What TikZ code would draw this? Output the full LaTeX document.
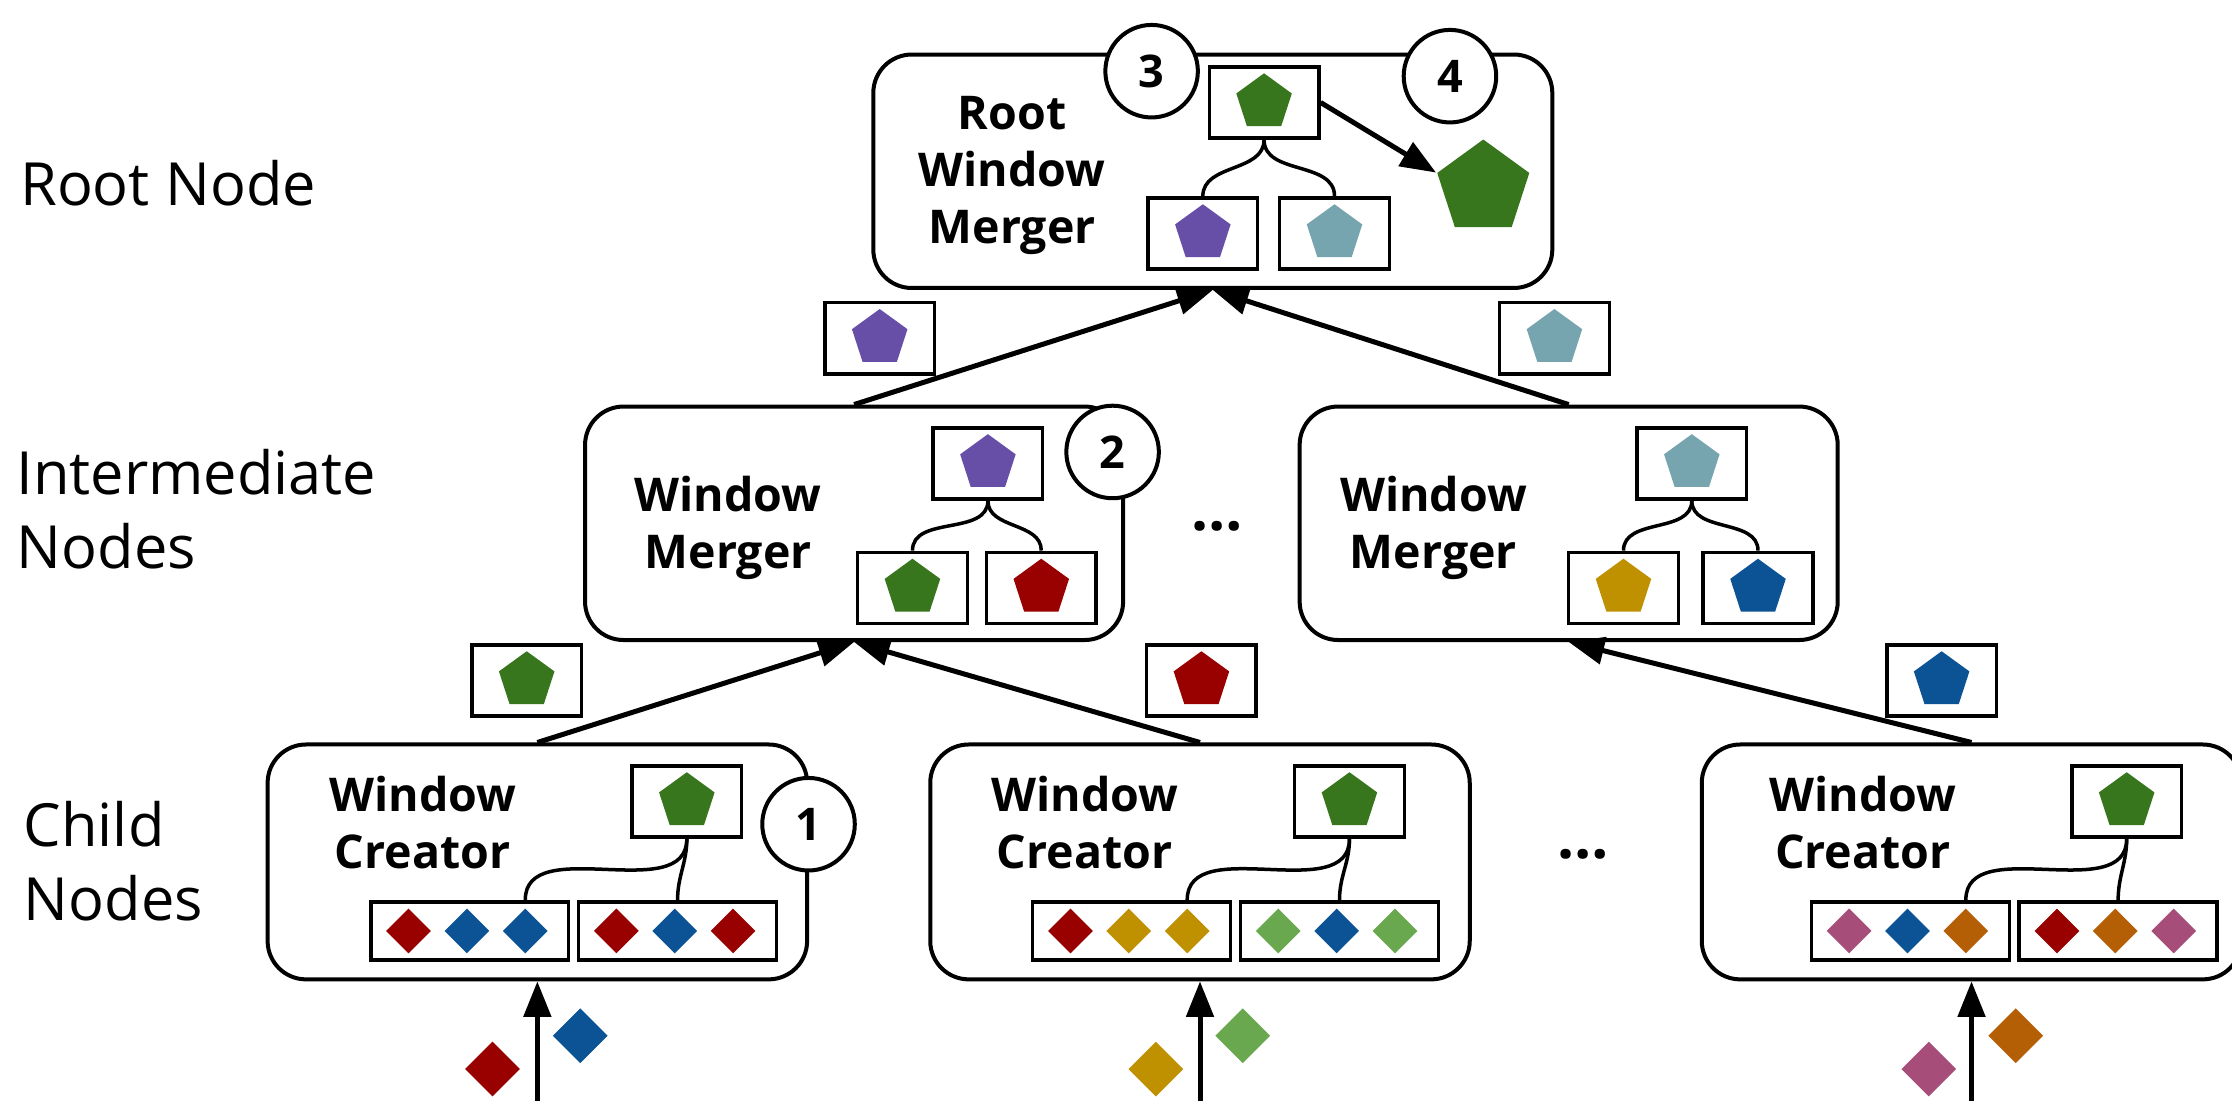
\documentclass[tikz,border=0pt]{standalone}
\usepackage{fontspec}
\setmainfont{Open Sans}
\usetikzlibrary{shapes.geometric, arrows.meta, positioning, calc}
\definecolor{pgreen}{HTML}{38761D}
\definecolor{ppurple}{HTML}{674EA7}
\definecolor{pteal}{HTML}{76A5AF}
\definecolor{pred}{HTML}{990000}
\definecolor{pblue}{HTML}{0B5394}
\definecolor{pgold}{HTML}{BF9000}
\definecolor{plime}{HTML}{6AA84F}
\definecolor{porange}{HTML}{B45F06}
\definecolor{ppink}{HTML}{A64D79}
\tikzset{
    tier/.style={rectangle, rounded corners=0.27cm, draw=black, line width=0.8pt, fill=white, inner sep=0pt},
    winbox/.style={rectangle, draw=black, line width=0.7pt, fill=white, minimum width=0.77cm, minimum height=0.5cm, inner sep=0pt},
    evbox/.style={rectangle, draw=black, line width=0.7pt, minimum width=1.39cm, minimum height=0.41cm, inner sep=0pt},
    pent/.style={regular polygon, regular polygon sides=5, minimum size=0.41cm, inner sep=0pt, fill=#1},
    gem/.style={diamond, aspect=1, minimum width=0.32cm, minimum height=0.32cm, inner sep=0pt, fill=#1},
    bigem/.style={gem=#1, minimum width=0.39cm, minimum height=0.39cm},
    badge/.style={circle, draw=black, line width=0.8pt, fill=white, minimum size=0.65cm, inner sep=0pt, font=\bfseries\fontsize{9}{10}\selectfont},
    role/.style={align=center, inner sep=0pt, font=\bfseries\fontsize{9.3}{11.4}\selectfont},
    tierlabel/.style={align=left, anchor=west, inner sep=0pt, font=\fontsize{11.9}{14.8}\selectfont},
    arrow/.style={-{Triangle[length=0.25cm, width=0.19cm]}, line width=1pt},
    link/.style={line width=0.7pt},
}

\begin{document}
\begin{tikzpicture}
    \useasboundingbox (0,0) rectangle (15.68,-7.73);

    % Level labels
    \node[tierlabel] (lroot) at (0.135,-1.29) {Root Node};
    \node[tierlabel] (linter) at (0.11,-3.58) {Intermediate\\Nodes};
    \node[tierlabel] (lchild) at (0.16,-6.05) {Child\\Nodes};

    % Root node
    \node[tier, minimum width=4.77cm, minimum height=1.64cm] (root) at (8.52,-1.203) {};
    \node[role] (roottext) at (7.11,-1.235) {Root\\Window\\Merger};
    \node[winbox] (rtop) at (8.88,-0.72) {};
    \node[pent=pgreen] (rtopp) at (rtop) {};
    \node[winbox] (rleft) at (8.45,-1.64) {};
    \node[pent=ppurple] (rleftp) at (rleft) {};
    \node[winbox] (rright) at (9.375,-1.64) {};
    \node[pent=pteal] (rrightp) at (rright) {};
    \node[pent=pgreen, minimum size=0.68cm] (result) at (10.42,-1.32) {};
    \draw[link] (rtop.south) to[out=-90, in=90] (rleft.north);
    \draw[link] (rtop.south) to[out=-90, in=90] (rright.north);
    \draw[arrow] (rtop.east) -- (result.corner 2);

    % Intermediate nodes
    \node[tier, minimum width=3.78cm, minimum height=1.64cm] (mergeL) at (6.0,-3.676) {};
    \node[role] (mergeLtext) at (5.115,-3.71) {Window\\Merger};
    \node[winbox] (mLtop) at (6.94,-3.255) {};
    \node[pent=ppurple] (mLtopp) at (mLtop) {};
    \node[winbox] (mLleft) at (6.41,-4.13) {};
    \node[pent=pgreen] (mLleftp) at (mLleft) {};
    \node[winbox] (mLright) at (7.315,-4.13) {};
    \node[pent=pred] (mLrightp) at (mLright) {};
    \draw[link] (mLtop.south) to[out=-90, in=90] (mLleft.north);
    \draw[link] (mLtop.south) to[out=-90, in=90] (mLright.north);

    \node[tier, minimum width=3.78cm, minimum height=1.64cm] (mergeR) at (11.02,-3.676) {};
    \node[role] (mergeRtext) at (10.07,-3.71) {Window\\Merger};
    \node[winbox] (mRtop) at (11.885,-3.255) {};
    \node[pent=pteal] (mRtopp) at (mRtop) {};
    \node[winbox] (mRleft) at (11.405,-4.13) {};
    \node[pent=pgold] (mRleftp) at (mRleft) {};
    \node[winbox] (mRright) at (12.35,-4.13) {};
    \node[pent=pblue] (mRrightp) at (mRright) {};
    \draw[link] (mRtop.south) to[out=-90, in=90] (mRleft.north);
    \draw[link] (mRtop.south) to[out=-90, in=90] (mRright.north);

    \node (dotsmid) at (8.55,-3.70) {\fontsize{12}{14}\selectfont\bfseries\dots};

    % Child nodes
    \node[tier, minimum width=3.79cm, minimum height=1.65cm] (child1) at (3.775,-6.055) {};
    \node[role] (child1text) at (2.97,-5.78) {Window\\Creator};
    \node[winbox] (c1top) at (4.825,-5.63) {};
    \node[pent=pgreen] (c1topp) at (c1top) {};
    \node[evbox] (c1a) at (3.30,-6.54) {};
    \node[gem=pred] (c1a1) at ([xshift=-0.43cm]c1a.center) {};
    \node[gem=pblue] (c1a2) at ([xshift=-0.02cm]c1a.center) {};
    \node[gem=pblue] (c1a3) at ([xshift=0.39cm]c1a.center) {};
    \node[evbox] (c1b) at (4.76,-6.54) {};
    \node[gem=pred] (c1b1) at ([xshift=-0.43cm]c1b.center) {};
    \node[gem=pblue] (c1b2) at ([xshift=-0.02cm]c1b.center) {};
    \node[gem=pred] (c1b3) at ([xshift=0.39cm]c1b.center) {};
    \draw[link] (c1top.south) to[out=-90, in=90] (c1a3 |- c1a.north);
    \draw[link] (c1top.south) to[out=-90, in=90] (c1b.north);

    \node[tier, minimum width=3.79cm, minimum height=1.65cm] (child2) at (8.43,-6.055) {};
    \node[role] (child2text) at (7.62,-5.78) {Window\\Creator};
    \node[winbox] (c2top) at (9.48,-5.63) {};
    \node[pent=pgreen] (c2topp) at (c2top) {};
    \node[evbox] (c2a) at (7.95,-6.54) {};
    \node[gem=pred] (c2a1) at ([xshift=-0.43cm]c2a.center) {};
    \node[gem=pgold] (c2a2) at ([xshift=-0.02cm]c2a.center) {};
    \node[gem=pgold] (c2a3) at ([xshift=0.39cm]c2a.center) {};
    \node[evbox] (c2b) at (9.41,-6.54) {};
    \node[gem=plime] (c2b1) at ([xshift=-0.43cm]c2b.center) {};
    \node[gem=pblue] (c2b2) at ([xshift=-0.02cm]c2b.center) {};
    \node[gem=plime] (c2b3) at ([xshift=0.39cm]c2b.center) {};
    \draw[link] (c2top.south) to[out=-90, in=90] (c2a3 |- c2a.north);
    \draw[link] (c2top.south) to[out=-90, in=90] (c2b.north);

    \node[tier, minimum width=3.79cm, minimum height=1.65cm] (child3) at (13.85,-6.055) {};
    \node[role] (child3text) at (13.087,-5.78) {Window\\Creator};
    \node[winbox] (c3top) at (14.94,-5.63) {};
    \node[pent=pgreen] (c3topp) at (c3top) {};
    \node[evbox] (c3a) at (13.42,-6.54) {};
    \node[gem=ppink] (c3a1) at ([xshift=-0.43cm]c3a.center) {};
    \node[gem=pblue] (c3a2) at ([xshift=-0.02cm]c3a.center) {};
    \node[gem=porange] (c3a3) at ([xshift=0.39cm]c3a.center) {};
    \node[evbox] (c3b) at (14.88,-6.54) {};
    \node[gem=pred] (c3b1) at ([xshift=-0.43cm]c3b.center) {};
    \node[gem=porange] (c3b2) at ([xshift=-0.02cm]c3b.center) {};
    \node[gem=ppink] (c3b3) at ([xshift=0.39cm]c3b.center) {};
    \draw[link] (c3top.south) to[out=-90, in=90] (c3a3 |- c3a.north);
    \draw[link] (c3top.south) to[out=-90, in=90] (c3b.north);

    \node (dotschild) at (11.12,-6.0) {\fontsize{12}{14}\selectfont\bfseries\dots};

    % Partial windows sent upwards
    \node[winbox] (upL) at (6.18,-2.376) {};
    \node[pent=ppurple] (upLp) at (upL) {};
    \node[winbox] (upR) at (10.92,-2.376) {};
    \node[pent=pteal] (upRp) at (upR) {};
    \node[winbox] (up1) at (3.70,-4.78) {};
    \node[pent=pgreen] (up1p) at (up1) {};
    \node[winbox] (up2) at (8.44,-4.78) {};
    \node[pent=pred] (up2p) at (up2) {};
    \node[winbox] (up3) at (13.64,-4.78) {};
    \node[pent=pblue] (up3p) at (up3) {};

    % Arrows
    \draw[arrow] (mergeL.north) -- (root.south);
    \draw[arrow] (mergeR.north) -- (root.south);
    \draw[arrow] (child1.north) -- (mergeL.south);
    \draw[arrow] (child2.north) -- (mergeL.south);
    \draw[arrow] (child3.north) -- (mergeR.south);

    % Incoming events
    \coordinate (in1) at (3.775,-7.76);
    \coordinate (in2) at (8.43,-7.76);
    \coordinate (in3) at (13.85,-7.76);
    \draw[arrow] (in1) -- (child1.south);
    \draw[arrow] (in2) -- (child2.south);
    \draw[arrow] (in3) -- (child3.south);
    \node[bigem=pred] (e1a) at (3.46,-7.51) {};
    \node[bigem=pblue] (e1b) at (4.076,-7.276) {};
    \node[bigem=pgold] (e2a) at (8.12,-7.51) {};
    \node[bigem=plime] (e2b) at (8.73,-7.276) {};
    \node[bigem=ppink] (e3a) at (13.55,-7.51) {};
    \node[bigem=porange] (e3b) at (14.16,-7.276) {};

    % Steps
    \node[badge] (s1) at (5.68,-5.79) {1};
    \node[badge] (s2) at (7.816,-3.175) {2};
    \node[badge] (s3) at (8.09,-0.50) {3};
    \node[badge] (s4) at (10.186,-0.535) {4};
\end{tikzpicture}
\end{document}
